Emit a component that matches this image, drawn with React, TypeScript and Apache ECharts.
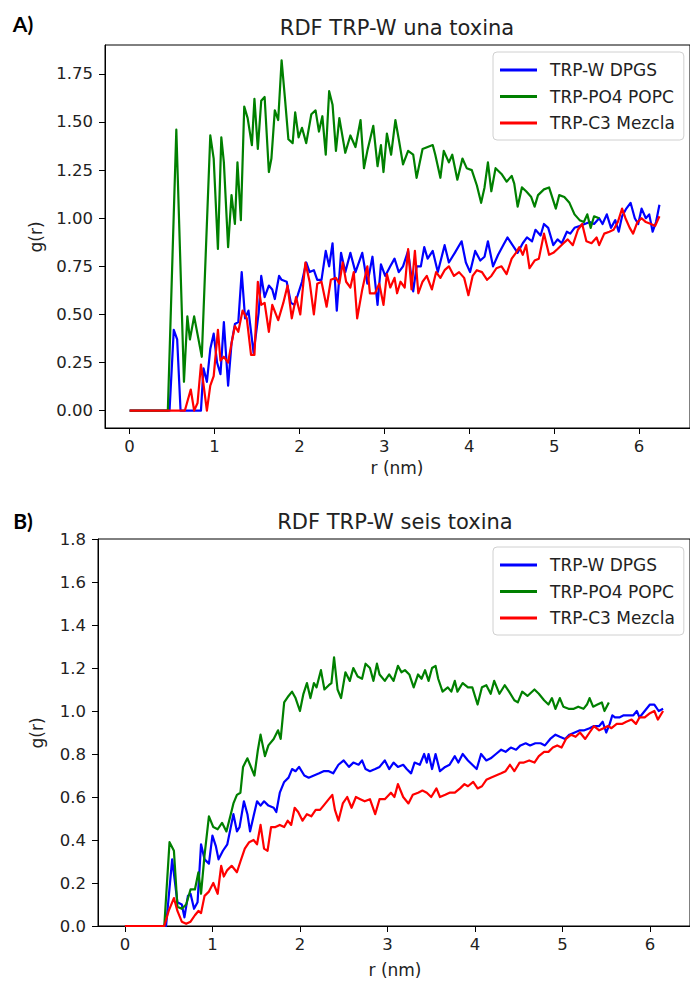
import React, { useEffect, useRef } from "react";
import * as echarts from "echarts";

// ---------- Panel A: una toxina  (pairs of [r (nm), g(r)]) ----------
const dpgsA = [[0,0],[0.47,0],[0.52,0.42],[0.56,0.37],[0.60,0],[0.84,0],[0.87,0.22],[0.91,0.15],[0.95,0.32],[0.99,0.40],[1.03,0.25],[1.07,0.19],[1.11,0.46],[1.16,0.13],[1.20,0.35],[1.24,0.45],[1.28,0.46],[1.32,0.72],[1.36,0.48],[1.40,0.52],[1.46,0.30],[1.52,0.51],[1.55,0.70],[1.59,0.59],[1.64,0.65],[1.68,0.63],[1.71,0.58],[1.76,0.70],[1.79,0.68],[1.85,0.67],[1.90,0.56],[1.94,0.55],[1.98,0.60],[2.03,0.67],[2.08,0.77],[2.12,0.72],[2.17,0.73],[2.21,0.68],[2.26,0.68],[2.31,0.83],[2.35,0.75],[2.39,0.87],[2.44,0.52],[2.49,0.82],[2.54,0.72],[2.60,0.82],[2.66,0.72],[2.74,0.82],[2.80,0.66],[2.86,0.80],[2.92,0.55],[2.96,0.76],[3.01,0.70],[3.07,0.75],[3.12,0.79],[3.17,0.72],[3.22,0.75],[3.28,0.83],[3.34,0.62],[3.38,0.75],[3.43,0.75],[3.47,0.85],[3.51,0.79],[3.57,0.83],[3.63,0.72],[3.71,0.86],[3.76,0.77],[3.83,0.82],[3.91,0.88],[3.96,0.77],[4.01,0.72],[4.07,0.83],[4.13,0.78],[4.18,0.80],[4.22,0.88],[4.28,0.75],[4.34,0.81],[4.40,0.86],[4.45,0.90],[4.51,0.86],[4.57,0.82],[4.63,0.87],[4.68,0.90],[4.74,0.88],[4.78,0.94],[4.84,0.91],[4.88,0.97],[4.93,0.95],[4.99,0.86],[5.04,0.89],[5.09,0.87],[5.15,0.93],[5.19,0.92],[5.24,0.95],[5.30,0.96],[5.36,0.97],[5.42,0.98],[5.47,0.97],[5.53,1.00],[5.57,0.97],[5.62,1.02],[5.67,0.95],[5.72,0.99],[5.76,0.93],[5.80,1.01],[5.85,1.05],[5.90,1.08],[5.95,1.00],[5.99,0.97],[6.03,1.05],[6.08,1.00],[6.12,1.02],[6.16,0.93],[6.20,0.98],[6.24,1.07]];

const popcA = [[0,0],[0.45,0],[0.55,1.46],[0.64,0.15],[0.68,0.49],[0.71,0.37],[0.76,0.49],[0.85,0.28],[0.95,1.43],[0.99,1.31],[1.04,0.84],[1.08,1.42],[1.11,1.29],[1.16,0.85],[1.20,1.12],[1.24,0.97],[1.27,1.29],[1.31,0.99],[1.35,1.58],[1.39,1.52],[1.44,1.38],[1.47,1.62],[1.51,1.36],[1.55,1.61],[1.59,1.63],[1.64,1.24],[1.67,1.31],[1.71,1.56],[1.75,1.51],[1.79,1.82],[1.83,1.62],[1.87,1.41],[1.92,1.39],[1.95,1.55],[1.99,1.42],[2.03,1.47],[2.08,1.39],[2.14,1.54],[2.19,1.56],[2.23,1.45],[2.27,1.53],[2.31,1.33],[2.35,1.66],[2.39,1.59],[2.43,1.35],[2.47,1.52],[2.54,1.34],[2.60,1.43],[2.66,1.37],[2.72,1.51],[2.76,1.26],[2.80,1.35],[2.87,1.48],[2.92,1.27],[2.96,1.38],[2.99,1.24],[3.03,1.44],[3.08,1.33],[3.13,1.51],[3.17,1.41],[3.22,1.28],[3.28,1.35],[3.34,1.33],[3.38,1.21],[3.45,1.36],[3.51,1.37],[3.57,1.38],[3.60,1.33],[3.66,1.21],[3.70,1.35],[3.76,1.29],[3.80,1.33],[3.86,1.20],[3.92,1.31],[3.97,1.26],[4.03,1.25],[4.09,1.17],[4.14,1.08],[4.18,1.16],[4.22,1.29],[4.26,1.14],[4.31,1.26],[4.38,1.23],[4.44,1.19],[4.50,1.22],[4.53,1.18],[4.57,1.06],[4.62,1.16],[4.67,1.14],[4.73,1.11],[4.77,1.06],[4.81,1.12],[4.88,1.15],[4.94,1.16],[5.02,1.05],[5.06,1.12],[5.12,1.11],[5.18,1.08],[5.24,1.02],[5.30,0.99],[5.35,0.98],[5.39,1.02],[5.43,0.95],[5.47,1.01],[5.53,1.00]];

const mezclaA = [[0,0],[0.65,0],[0.72,0.11],[0.76,0],[0.80,0.04],[0.84,0.24],[0.91,0],[0.95,0.13],[0.99,0.18],[1.04,0.42],[1.07,0.26],[1.11,0.28],[1.16,0.25],[1.20,0.35],[1.24,0.44],[1.28,0.41],[1.33,0.52],[1.38,0.48],[1.43,0.29],[1.47,0.29],[1.51,0.67],[1.55,0.55],[1.59,0.56],[1.64,0.41],[1.68,0.55],[1.75,0.47],[1.81,0.56],[1.86,0.65],[1.91,0.48],[1.96,0.59],[2.01,0.50],[2.07,0.77],[2.12,0.67],[2.17,0.50],[2.21,0.66],[2.26,0.67],[2.32,0.54],[2.37,0.68],[2.43,0.69],[2.47,0.66],[2.51,0.77],[2.55,0.67],[2.60,0.64],[2.64,0.72],[2.68,0.48],[2.74,0.63],[2.80,0.75],[2.83,0.61],[2.89,0.61],[2.94,0.66],[2.99,0.55],[3.03,0.71],[3.07,0.64],[3.12,0.69],[3.15,0.61],[3.19,0.67],[3.24,0.64],[3.28,0.84],[3.32,0.63],[3.36,0.83],[3.40,0.61],[3.45,0.67],[3.50,0.70],[3.56,0.63],[3.61,0.72],[3.66,0.69],[3.71,0.73],[3.76,0.75],[3.82,0.70],[3.88,0.72],[3.94,0.69],[3.99,0.60],[4.04,0.70],[4.09,0.73],[4.15,0.72],[4.21,0.68],[4.26,0.70],[4.32,0.74],[4.38,0.75],[4.44,0.71],[4.50,0.79],[4.55,0.82],[4.59,0.85],[4.63,0.81],[4.67,0.86],[4.71,0.74],[4.77,0.78],[4.82,0.79],[4.88,0.92],[4.94,0.81],[4.99,0.82],[5.04,0.84],[5.11,0.87],[5.16,0.89],[5.22,0.86],[5.28,0.94],[5.33,0.97],[5.38,0.88],[5.44,0.87],[5.50,0.90],[5.53,0.86],[5.59,0.92],[5.65,0.93],[5.70,0.94],[5.75,0.98],[5.80,1.05],[5.84,1.00],[5.89,0.95],[5.93,0.92],[5.98,0.98],[6.03,1.00],[6.08,0.98],[6.14,0.97],[6.19,0.96],[6.24,1.01]];

// ---------- Panel B: seis toxina ----------
const dpgsB = [[0,0],[0.47,0],[0.54,0.31],[0.60,0.11],[0.65,0.10],[0.68,0.04],[0.72,0.14],[0.75,0.15],[0.79,0.08],[0.83,0.11],[0.87,0.38],[0.91,0.31],[0.96,0.29],[1.00,0.42],[1.04,0.37],[1.07,0.31],[1.12,0.35],[1.17,0.38],[1.21,0.46],[1.24,0.52],[1.28,0.44],[1.31,0.46],[1.36,0.58],[1.40,0.52],[1.43,0.44],[1.47,0.51],[1.51,0.58],[1.55,0.56],[1.59,0.58],[1.64,0.56],[1.70,0.55],[1.73,0.53],[1.77,0.62],[1.82,0.67],[1.87,0.69],[1.91,0.73],[1.95,0.72],[1.99,0.74],[2.05,0.70],[2.10,0.69],[2.16,0.70],[2.22,0.71],[2.27,0.72],[2.33,0.72],[2.38,0.71],[2.44,0.75],[2.50,0.77],[2.56,0.74],[2.61,0.76],[2.67,0.75],[2.71,0.77],[2.75,0.73],[2.80,0.72],[2.86,0.73],[2.91,0.74],[2.97,0.77],[3.02,0.73],[3.07,0.76],[3.12,0.74],[3.18,0.75],[3.22,0.73],[3.27,0.71],[3.31,0.76],[3.37,0.75],[3.42,0.80],[3.45,0.76],[3.47,0.80],[3.51,0.73],[3.55,0.80],[3.60,0.72],[3.66,0.74],[3.71,0.75],[3.77,0.79],[3.81,0.76],[3.86,0.80],[3.92,0.77],[3.97,0.75],[4.02,0.73],[4.07,0.80],[4.13,0.77],[4.18,0.78],[4.24,0.80],[4.30,0.82],[4.35,0.81],[4.41,0.83],[4.47,0.82],[4.52,0.84],[4.58,0.85],[4.63,0.84],[4.69,0.85],[4.75,0.85],[4.80,0.84],[4.86,0.87],[4.92,0.89],[4.97,0.88],[5.03,0.87],[5.08,0.89],[5.14,0.90],[5.20,0.91],[5.25,0.91],[5.31,0.92],[5.36,0.93],[5.42,0.93],[5.46,0.95],[5.50,0.90],[5.54,0.94],[5.57,0.98],[5.60,0.97],[5.65,0.97],[5.70,0.98],[5.75,0.98],[5.81,0.98],[5.85,1.00],[5.88,0.97],[5.94,1.00],[6.00,1.03],[6.05,1.03],[6.10,1.00],[6.15,1.01]];

const popcB = [[0,0],[0.45,0],[0.51,0.39],[0.56,0.35],[0.60,0.09],[0.65,0.08],[0.70,0.10],[0.75,0.17],[0.80,0.17],[0.84,0.25],[0.87,0.15],[0.91,0.33],[0.96,0.51],[1.01,0.46],[1.06,0.45],[1.11,0.48],[1.16,0.44],[1.21,0.52],[1.24,0.57],[1.28,0.61],[1.32,0.62],[1.35,0.74],[1.40,0.78],[1.43,0.75],[1.48,0.70],[1.52,0.82],[1.55,0.89],[1.60,0.79],[1.64,0.84],[1.70,0.87],[1.75,0.91],[1.78,0.87],[1.82,1.04],[1.87,1.07],[1.91,1.09],[1.95,1.06],[2.00,1.00],[2.04,1.08],[2.08,1.13],[2.12,1.06],[2.16,1.13],[2.19,1.11],[2.24,1.19],[2.28,1.10],[2.33,1.12],[2.36,1.13],[2.39,1.25],[2.43,1.10],[2.47,1.06],[2.52,1.18],[2.57,1.14],[2.61,1.20],[2.66,1.16],[2.71,1.15],[2.75,1.22],[2.80,1.20],[2.84,1.14],[2.88,1.22],[2.91,1.17],[2.97,1.14],[3.02,1.17],[3.07,1.14],[3.12,1.21],[3.16,1.18],[3.20,1.19],[3.25,1.17],[3.30,1.11],[3.35,1.17],[3.39,1.15],[3.43,1.19],[3.47,1.14],[3.51,1.20],[3.55,1.21],[3.58,1.15],[3.63,1.09],[3.69,1.11],[3.73,1.09],[3.77,1.14],[3.80,1.09],[3.86,1.13],[3.92,1.11],[3.97,1.11],[4.03,1.03],[4.08,1.11],[4.13,1.12],[4.18,1.08],[4.22,1.14],[4.28,1.08],[4.34,1.12],[4.39,1.09],[4.45,1.05],[4.49,1.04],[4.54,1.09],[4.60,1.07],[4.68,1.10],[4.73,1.08],[4.79,1.05],[4.84,1.03],[4.88,1.06],[4.92,1.01],[4.97,1.06],[5.01,1.02],[5.07,1.01],[5.13,1.01],[5.18,1.02],[5.24,1.01],[5.28,1.03],[5.31,1.06],[5.35,1.02],[5.40,1.03],[5.45,1.04],[5.48,1.00],[5.53,1.04]];

const mezclaB = [[0,0],[0.45,0],[0.50,0.07],[0.56,0.13],[0.60,0.07],[0.65,0.02],[0.70,0.01],[0.75,0.02],[0.80,0.05],[0.84,0.07],[0.87,0.06],[0.91,0.14],[0.96,0.16],[1.01,0.20],[1.06,0.15],[1.10,0.28],[1.13,0.23],[1.17,0.26],[1.22,0.28],[1.28,0.25],[1.32,0.30],[1.37,0.36],[1.42,0.39],[1.47,0.40],[1.51,0.38],[1.55,0.47],[1.59,0.36],[1.63,0.35],[1.67,0.46],[1.72,0.46],[1.77,0.47],[1.82,0.46],[1.86,0.49],[1.90,0.47],[1.94,0.55],[1.98,0.53],[2.03,0.49],[2.08,0.52],[2.13,0.51],[2.18,0.54],[2.23,0.54],[2.27,0.56],[2.33,0.59],[2.37,0.61],[2.40,0.54],[2.44,0.49],[2.49,0.57],[2.54,0.60],[2.59,0.55],[2.64,0.60],[2.69,0.59],[2.74,0.58],[2.80,0.59],[2.86,0.52],[2.91,0.59],[2.97,0.59],[3.04,0.62],[3.08,0.60],[3.12,0.66],[3.18,0.60],[3.24,0.57],[3.29,0.61],[3.35,0.62],[3.40,0.63],[3.45,0.62],[3.50,0.60],[3.56,0.64],[3.60,0.60],[3.66,0.61],[3.71,0.62],[3.77,0.62],[3.83,0.64],[3.88,0.66],[3.92,0.65],[3.98,0.67],[4.03,0.64],[4.08,0.65],[4.13,0.68],[4.18,0.69],[4.24,0.70],[4.30,0.71],[4.35,0.72],[4.40,0.75],[4.45,0.72],[4.51,0.76],[4.56,0.76],[4.62,0.77],[4.68,0.76],[4.73,0.79],[4.79,0.81],[4.84,0.81],[4.89,0.83],[4.94,0.84],[4.99,0.83],[5.04,0.87],[5.10,0.89],[5.15,0.88],[5.20,0.90],[5.26,0.87],[5.31,0.90],[5.36,0.93],[5.42,0.91],[5.47,0.92],[5.52,0.93],[5.56,0.92],[5.62,0.94],[5.68,0.94],[5.73,0.95],[5.79,0.96],[5.84,0.94],[5.88,0.97],[5.94,0.97],[6.00,0.99],[6.05,1.00],[6.09,0.96],[6.15,1.00]];

// ---------- labels / ticks ----------
const seriesNames = ["TRP-W DPGS", "TRP-PO4 POPC", "TRP-C3 Mezcla"];
const seriesColors = ["#0000ff", "#008000", "#ff0000"];
const xTicks = [0, 1, 2, 3, 4, 5, 6];
const yTicksA = [0, 0.25, 0.5, 0.75, 1.0, 1.25, 1.5, 1.75];
const yTicksB = [0, 0.2, 0.4, 0.6, 0.8, 1.0, 1.2, 1.4, 1.6, 1.8];
const titleA = "RDF TRP-W una toxina";
const titleB = "RDF TRP-W seis toxina";
const panelA = "A)";
const panelB = "B)";
const xName = "r (nm)";
const yName = "g(r)";

const FONT = "DejaVu Sans";
const TXT = "#222";

export default function App() {
  const ref = useRef<HTMLDivElement>(null);

  useEffect(() => {
    if (!ref.current) return;
    const chart = echarts.init(ref.current, undefined, { renderer: "svg" });

    const axisCommon = {
      axisLine: { show: true, onZero: false, lineStyle: { color: "#000", width: 1 } },
      axisTick: { show: true, length: 6, lineStyle: { color: "#000", width: 1 } },
      splitLine: { show: false },
    };

    const xAxisFor = (idx: number, min: number, max: number) => ({
      type: "value",
      gridIndex: idx,
      min,
      max,
      ...axisCommon,
      axisTick: { ...axisCommon.axisTick, customValues: xTicks },
      axisLabel: {
        customValues: xTicks,
        margin: 10,
        fontFamily: FONT,
        fontSize: 16.5,
        color: TXT,
        formatter: (v: number) => String(Math.round(v)),
      },
    });

    const yAxisFor = (idx: number, min: number, max: number, ticks: number[], dec: number) => ({
      type: "value",
      gridIndex: idx,
      min,
      max,
      ...axisCommon,
      axisTick: { ...axisCommon.axisTick, customValues: ticks },
      axisLabel: {
        customValues: ticks,
        margin: 12,
        fontFamily: FONT,
        fontSize: 16.5,
        color: TXT,
        formatter: (v: number) => v.toFixed(dec),
      },
    });

    const dataA = [dpgsA, popcA, mezclaA];
    const dataB = [dpgsB, popcB, mezclaB];

    const mkSeries = (data: number[][], i: number, gi: number) => ({
      type: "line",
      name: seriesNames[i],
      xAxisIndex: gi,
      yAxisIndex: gi,
      data,
      showSymbol: false,
      symbol: "none",
      clip: true,
      lineStyle: { color: seriesColors[i], width: 2.2, join: "round" },
      itemStyle: { color: seriesColors[i] },
      emphasis: { disabled: true },
      z: 2 + i,
    });

    const legendFor = (top: number) => ({
      orient: "vertical",
      left: 493,
      top,
      data: seriesNames,
      icon: "rect",
      itemWidth: 37,
      itemHeight: 3,
      itemGap: 8.5,
      padding: [9, 9, 8, 7],
      backgroundColor: "rgba(255,255,255,0.85)",
      borderColor: "#d0d0d0",
      borderWidth: 1,
      borderRadius: 4,
      selectedMode: false,
      textStyle: {
        fontFamily: FONT,
        fontSize: 17,
        color: TXT,
        lineHeight: 18,
        padding: [0, 0, 0, 8],
      },
    });

    const txt = (text: string, x: number, y: number, size: number, extra: any = {}) => ({
      type: "text",
      x,
      y,
      silent: true,
      ...extra,
      style: {
        text,
        fontFamily: FONT,
        fontSize: size,
        fill: TXT,
        align: "center",
        verticalAlign: "middle",
        ...(extra.style || {}),
      },
    });

    chart.setOption({
      animation: false,
      backgroundColor: "#fff",
      grid: [
        { left: 105, top: 45, right: -6, height: 383, show: true, borderColor: "#000", borderWidth: 1, backgroundColor: "transparent" },
        { left: 98, top: 539, right: -5, height: 387, show: true, borderColor: "#000", borderWidth: 1, backgroundColor: "transparent" },
      ],
      xAxis: [xAxisFor(0, -0.29, 6.6), xAxisFor(1, -0.3075, 6.4575)],
      yAxis: [yAxisFor(0, -0.09, 1.9, yTicksA, 2), yAxisFor(1, 0, 1.8, yTicksB, 1)],
      legend: [legendFor(52), legendFor(547)],
      series: [
        ...dataA.map((d, i) => mkSeries(d, i, 0)),
        ...dataB.map((d, i) => mkSeries(d, i, 1)),
      ],
      graphic: [
        txt(panelA, 23, 23, 21, { style: { fontFamily: "Lato", fontWeight: "bold", fill: "#000" } }),
        txt(panelB, 23, 520, 21, { style: { fontFamily: "Lato", fontWeight: "bold", fill: "#000" } }),
        txt(titleA, 397, 28, 21),
        txt(titleB, 395, 522, 21),
        txt(xName, 397, 468, 17),
        txt(xName, 395, 970, 17),
        txt(yName, 36, 237, 17, { rotation: Math.PI / 2 }),
        txt(yName, 37, 733, 17, { rotation: Math.PI / 2 }),
      ],
    });

    return () => chart.dispose();
  }, []);

  return (
    <div
      ref={ref}
      style={{ position: "fixed", left: 0, top: 0, width: 690, height: 985, background: "#fff" }}
    />
  );
}
